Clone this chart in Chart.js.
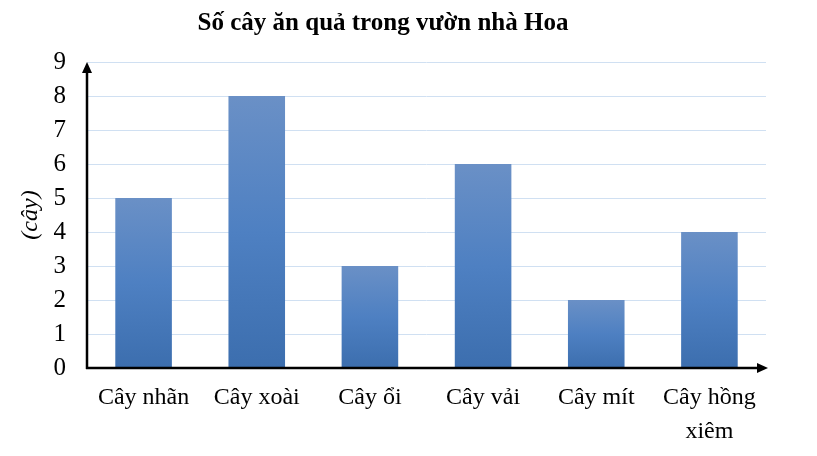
<!DOCTYPE html>
<html lang="vi">
<head>
    <meta charset="UTF-8">
    <title>Số cây ăn quả trong vườn nhà Hoa</title>
    <style>
        html, body { margin: 0; padding: 0; background: #fff; }
        #bieuDo { display: block; }
    </style>
</head>
<body>
    <canvas id="bieuDo" width="817" height="456"></canvas>

    <script src="https://cdn.jsdelivr.net/npm/chart.js"></script>
    <script>
    // Données
    const categories = ['Cây nhãn', 'Cây xoài', 'Cây ổi', 'Cây vải', 'Cây mít', ['Cây hồng', 'xiêm']];
    const soCay = [5, 8, 3, 6, 2, 4];
    const yTicks = [0, 1, 2, 3, 4, 5, 6, 7, 8, 9];

    const serif = '"Liberation Serif", "Times New Roman", serif';

    // dégradé vertical pour chaque barre (clair en haut, plus foncé en bas)
    function barGradient(context) {
        const chart = context.chart;
        const y = chart.scales.y;
        if (!y || !context.parsed) return '#4e80c2';
        const top = y.getPixelForValue(context.parsed.y);
        const base = y.getPixelForValue(0);
        if (!isFinite(top) || !isFinite(base) || top === base) return '#4e80c2';
        const g = chart.ctx.createLinearGradient(0, top, 0, base);
        g.addColorStop(0, '#6a90c6');
        g.addColorStop(0.5, '#4e80c2');
        g.addColorStop(1, '#3c6eae');
        return g;
    }

    // axes noirs avec flèches
    const axesFleches = {
        id: 'axesFleches',
        afterDatasetsDraw(chart) {
            const { ctx, chartArea } = chart;
            const x0 = chartArea.left, y0 = chartArea.bottom;
            ctx.save();
            ctx.strokeStyle = '#000';
            ctx.fillStyle = '#000';
            ctx.lineWidth = 2.5;
            ctx.beginPath();
            ctx.moveTo(x0, y0 + 1);
            ctx.lineTo(x0, chartArea.top + 6);
            ctx.moveTo(x0 - 1, y0);
            ctx.lineTo(chartArea.right - 4, y0);
            ctx.stroke();
            // flèche verticale
            ctx.beginPath();
            ctx.moveTo(x0, chartArea.top);
            ctx.lineTo(x0 - 5, chartArea.top + 11);
            ctx.lineTo(x0 + 5, chartArea.top + 11);
            ctx.closePath();
            ctx.fill();
            // flèche horizontale
            ctx.beginPath();
            ctx.moveTo(chartArea.right + 2, y0);
            ctx.lineTo(chartArea.right - 9, y0 - 5);
            ctx.lineTo(chartArea.right - 9, y0 + 5);
            ctx.closePath();
            ctx.fill();
            ctx.restore();
        }
    };

    new Chart(document.getElementById('bieuDo').getContext('2d'), {
        type: 'bar',
        data: {
            labels: categories,
            datasets: [{
                data: soCay,
                backgroundColor: barGradient,
                borderWidth: 0,
                barPercentage: 0.5,
                categoryPercentage: 1.0
            }]
        },
        options: {
            responsive: false,
            animation: false,
            layout: { padding: { left: 0, right: 51, top: 0, bottom: 0 } },
            plugins: {
                legend: { display: false },
                tooltip: { enabled: false },
                title: {
                    display: true,
                    text: 'Số cây ăn quả trong vườn nhà Hoa',
                    color: '#000',
                    font: { family: serif, size: 25, weight: 'bold', lineHeight: 1.2 },
                    padding: { top: 9, bottom: 23 }
                }
            },
            scales: {
                x: {
                    grid: { display: false, drawTicks: false },
                    border: { display: false },
                    ticks: {
                        color: '#000',
                        font: { family: serif, size: 24, lineHeight: 1.4 },
                        padding: 13,
                        maxRotation: 0,
                        autoSkip: false
                    },
                    afterFit(scale) { scale.height = 88; }
                },
                y: {
                    min: 0,
                    max: 9,
                    afterBuildTicks(scale) {
                        scale.ticks = yTicks.map(v => ({ value: v }));
                    },
                    grid: { color: '#d0e0f2', lineWidth: 1, drawTicks: false },
                    border: { display: false },
                    ticks: {
                        color: '#000',
                        font: { family: serif, size: 25 },
                        padding: 21
                    },
                    title: {
                        display: true,
                        text: '(cây)',
                        color: '#000',
                        font: { family: serif, size: 24, style: 'italic', lineHeight: 1.2 },
                        padding: { top: 16, bottom: 0 }
                    },
                    afterFit(scale) { scale.width = 87; }
                }
            }
        },
        plugins: [axesFleches]
    });
    </script>
</body>
</html>
